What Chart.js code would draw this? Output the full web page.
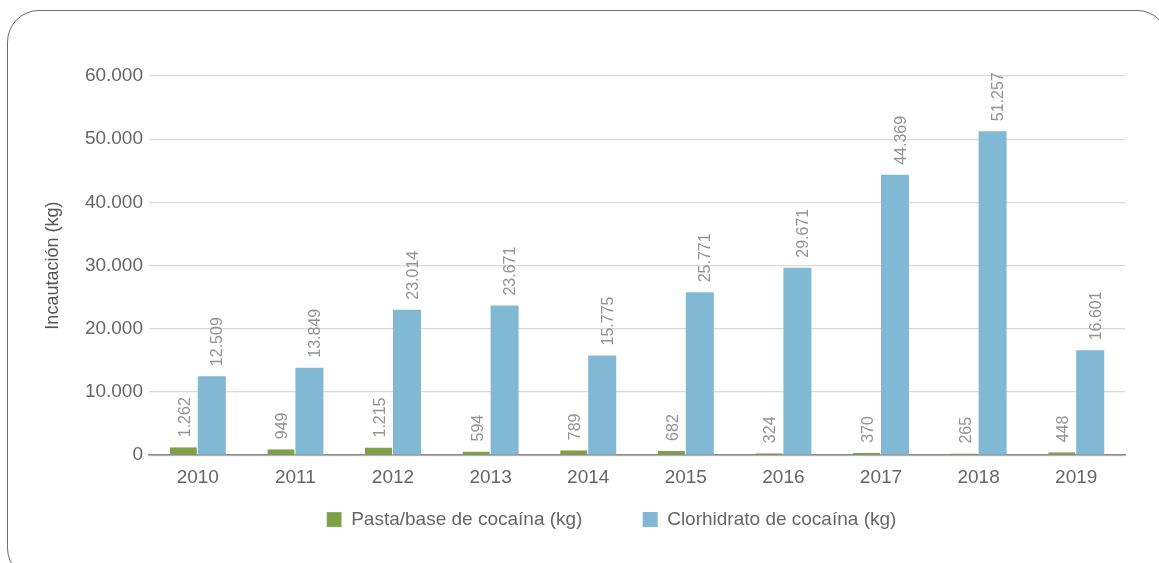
<!DOCTYPE html>
<html lang="es">
<head>
    <meta charset="UTF-8">
    <title>Incautación de cocaína 2010-2019</title>
    <script src="https://cdn.jsdelivr.net/npm/chart.js"></script>
    <style>
        body { margin: 0; background: #fff; }
        #wrap { position: relative; width: 1159px; height: 563px; overflow: hidden; }
        #frame {
            position: absolute; left: 7px; top: 10px; width: 1162px; height: 570px;
            border: 1.5px solid #6b6b6b; border-radius: 32px; box-sizing: border-box;
        }
        canvas { position: absolute; left: 0; top: 0; }
    </style>
</head>
<body>

<div id="wrap">
    <div id="frame"></div>
    <canvas id="myChart" width="1159" height="563"></canvas>
</div>

<script>
// Datos
const anios = ['2010', '2011', '2012', '2013', '2014', '2015', '2016', '2017', '2018', '2019'];
const pastaBase = [1262, 949, 1215, 594, 789, 682, 324, 370, 265, 448];
const clorhidrato = [12509, 13849, 23014, 23671, 15775, 25771, 29671, 44369, 51257, 16601];

const FONT = "'Liberation Sans', Arial, sans-serif";

// Formato con punto de miles
function fmt(v) {
    return String(v).replace(/\B(?=(\d{3})+(?!\d))/g, '.');
}

// Etiquetas verticales encima de cada barra
const etiquetas = {
    id: 'etiquetas',
    afterDatasetsDraw(chart) {
        const ctx = chart.ctx;
        const desplaz = [6, 10.5]; // el original corre un poco las etiquetas azules
        ctx.save();
        ctx.font = '16px ' + FONT;
        ctx.fillStyle = '#939393';
        ctx.textAlign = 'left';
        ctx.textBaseline = 'alphabetic';
        chart.data.datasets.forEach((ds, i) => {
            chart.getDatasetMeta(i).data.forEach((bar, j) => {
                ctx.save();
                ctx.translate(bar.x + desplaz[i], bar.y - 10);
                ctx.rotate(-Math.PI / 2);
                ctx.fillText(fmt(ds.data[j]), 0, 0);
                ctx.restore();
            });
        });
        ctx.restore();
    }
};

// Mueve la leyenda un poco a la derecha, como en el original
const leyendaDerecha = {
    id: 'leyendaDerecha',
    afterLayout(chart) {
        if (chart.legend) {
            chart.legend.left += 29;
            chart.legend.right += 29;
        }
    }
};

const ctx = document.getElementById('myChart').getContext('2d');
const myChart = new Chart(ctx, {
    type: 'bar',
    data: {
        labels: anios,
        datasets: [{
            label: 'Pasta/base de cocaína (kg)',
            data: pastaBase,
            backgroundColor: '#7fa044',
            borderColor: '#ffffff',
            borderWidth: { left: 0, right: 1, top: 0, bottom: 0 },
            categoryPercentage: 0.574,
            barPercentage: 1
        }, {
            label: 'Clorhidrato de cocaína (kg)',
            data: clorhidrato,
            backgroundColor: '#81b8d4',
            borderWidth: 0,
            categoryPercentage: 0.574,
            barPercentage: 1
        }]
    },
    options: {
        responsive: false,
        animation: false,
        layout: { padding: { top: 76, right: 34, bottom: 24, left: 40 } },
        plugins: {
            tooltip: { enabled: false },
            legend: {
                position: 'bottom',
                labels: {
                    color: '#666',
                    font: { family: FONT, size: 19 },
                    boxWidth: 15,
                    boxHeight: 15,
                    padding: 18,
                    generateLabels(chart) {
                        const items = Chart.defaults.plugins.legend.labels.generateLabels(chart);
                        items[0].text += '        ';
                        return items;
                    }
                }
            }
        },
        scales: {
            x: {
                grid: { display: false },
                border: { color: '#8a8a8a', width: 1.5 },
                ticks: { color: '#666', font: { family: FONT, size: 19 }, padding: 3 }
            },
            y: {
                min: 0,
                max: 60000,
                afterFit(scale) { scale.width = 109; },
                grid: { color: '#d9d9d9', lineWidth: 1.2, drawTicks: false },
                border: { display: false },
                ticks: {
                    stepSize: 10000,
                    padding: 6,
                    color: '#666',
                    font: { family: FONT, size: 19 },
                    callback: v => fmt(v)
                },
                title: {
                    display: true,
                    text: 'Incautación (kg)',
                    color: '#555',
                    font: { family: FONT, size: 18 },
                    padding: { top: 2, bottom: 0 }
                }
            }
        }
    },
    plugins: [etiquetas, leyendaDerecha]
});
</script>

</body>
</html>
